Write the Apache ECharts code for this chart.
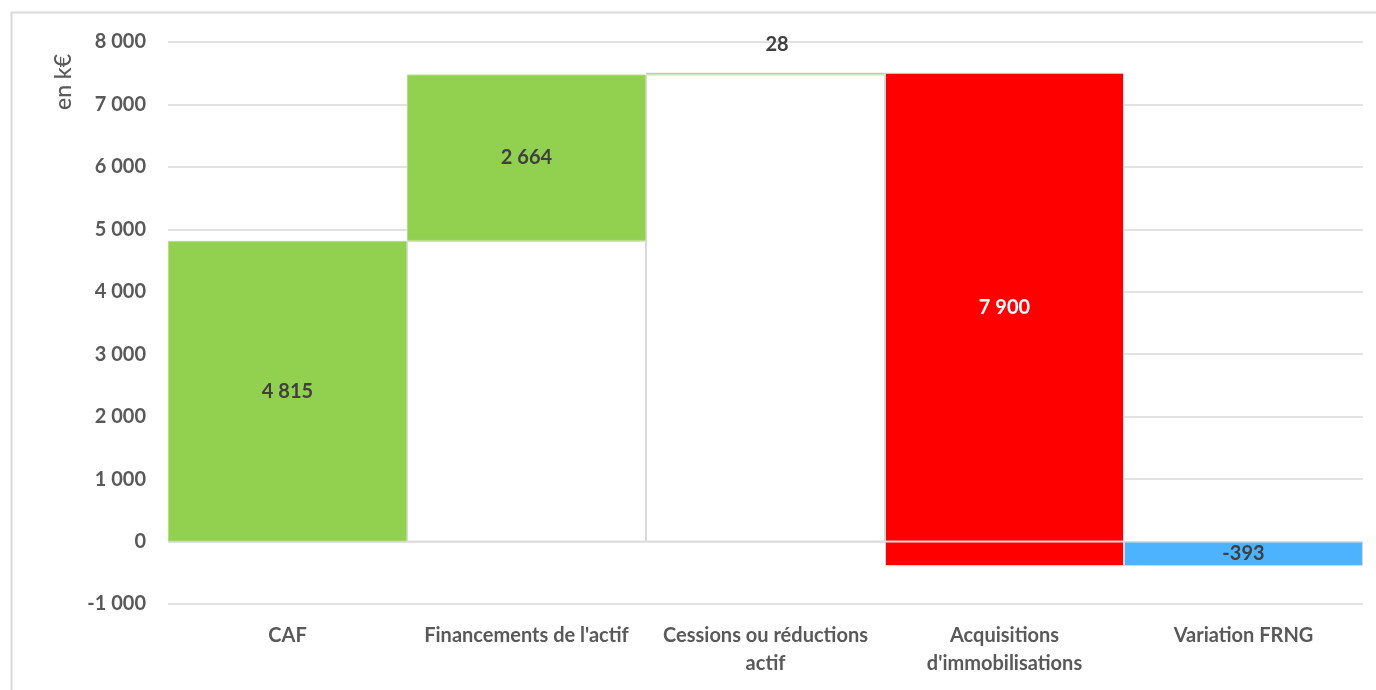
<!DOCTYPE html>
<html>
<head>
<meta charset="utf-8">
<script src="https://cdn.jsdelivr.net/npm/echarts@6/dist/echarts.min.js"></script>
<style>
  html, body { margin: 0; padding: 0; background: #fff; }
  #chart { width: 1376px; height: 690px; }
</style>
</head>
<body>
<div id="chart"></div>
<script>
// categories and values (en k€)
const categories = ['CAF', "Financements de l'actif", 'Cessions ou réductions\nactif', "Acquisitions\nd'immobilisations", 'Variation FRNG'];
const gains = [4815, 2664, 28, null, null];   // increases
const losses = [null, null, null, 7900, null]; // decreases
const totals = [null, null, null, null, -393]; // final result
const yTicks = { min: -1000, max: 8000, interval: 1000 };

const fmt = v => {
  const s = Math.abs(v).toString().replace(/\B(?=(\d{3})+(?!\d))/g, ' ');
  return (v < 0 ? '-' : '') + s;
};

// build the stacked pieces of the waterfall
const base = [], up = [], downPos = [], downNeg = [], total = [];
let running = 0;
categories.forEach((c, i) => {
  base.push('-'); up.push('-'); downPos.push('-'); downNeg.push('-'); total.push('-');
  if (gains[i] != null) {
    if (running > 0) base[i] = running;
    up[i] = gains[i];
    running += gains[i];
  } else if (losses[i] != null) {
    const end = running - losses[i];
    if (end >= 0) { base[i] = end; downPos[i] = losses[i]; }
    else { downPos[i] = running; downNeg[i] = end; }
    running = end;
  } else if (totals[i] != null) {
    total[i] = totals[i];
  }
});

const labelFont = { fontFamily: 'Lato', fontWeight: 'bold', fontSize: 20, color: '#404040' };
const edge = { borderColor: '#d9d9d9', borderWidth: 1 };

const chart = echarts.init(document.getElementById('chart'));
chart.setOption({
  animation: false,
  graphic: [
    { type: 'rect', shape: { x: 11.5, y: 12.5, width: 1380, height: 700 },
      style: { fill: 'none', stroke: '#d9d9d9', lineWidth: 2 } },
    { type: 'text', x: 52, y: 110, rotation: Math.PI / 2,
      style: { text: 'en k€', fill: '#595959', font: '500 23px Lato', textAlign: 'left', textVerticalAlign: 'top' } }
  ],
  grid: { left: 168, right: 13, top: 42, bottom: 86 },
  xAxis: {
    type: 'category',
    data: categories,
    axisLine: { show: false },
    axisTick: { show: false },
    axisLabel: { interval: 0, margin: 18, lineHeight: 28, ...labelFont, color: '#595959' }
  },
  yAxis: {
    type: 'value',
    min: yTicks.min, max: yTicks.max, interval: yTicks.interval,
    axisLine: { show: false },
    axisTick: { show: false },
    splitLine: { lineStyle: { color: '#d9d9d9', width: 1.5 } },
    axisLabel: { margin: 22, ...labelFont, color: '#595959', formatter: fmt }
  },
  series: [
    { name: 'base', type: 'bar', stack: 'w', barCategoryGap: '0%', data: base,
      itemStyle: { color: '#ffffff', ...edge }, silent: true },
    { name: 'hausse', type: 'bar', stack: 'w', data: up,
      itemStyle: { color: '#92d050', borderColor: '#b5dc8a', borderWidth: 1 },
      label: { show: true, position: 'inside', ...labelFont, formatter: p => fmt(p.value) },
      labelLayout: p => p.dataIndex === 2 ? { y: 45, verticalAlign: 'middle' } : {} },
    { name: 'baisse', type: 'bar', stack: 'w', data: downPos,
      itemStyle: { color: '#ff0000', ...edge },
      label: { show: true, position: 'inside', ...labelFont, color: '#ffffff',
        formatter: p => fmt(losses[p.dataIndex]) } },
    { name: 'baisse neg', type: 'bar', stack: 'w', data: downNeg,
      itemStyle: { color: '#ff0000', ...edge } },
    { name: 'total', type: 'bar', stack: 'w', data: total,
      itemStyle: { color: '#4db3ff', ...edge },
      label: { show: true, position: 'inside', ...labelFont, formatter: p => fmt(p.value) } }
  ]
});
</script>
</body>
</html>
